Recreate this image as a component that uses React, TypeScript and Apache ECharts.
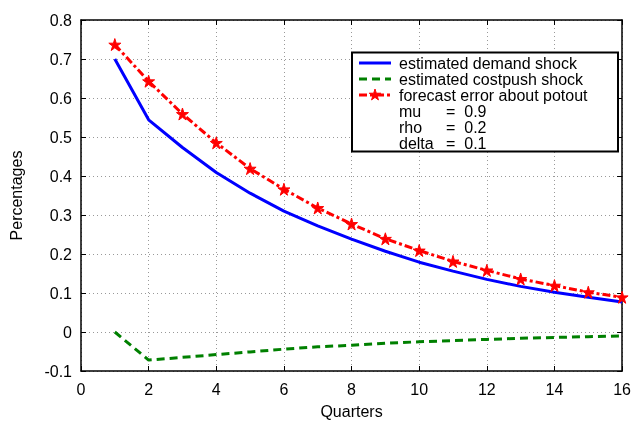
import React, { useEffect, useRef } from "react";
import * as echarts from "echarts";

const quarters = [1, 2, 3, 4, 5, 6, 7, 8, 9, 10, 11, 12, 13, 14, 15, 16];
const demandShock = [0.70, 0.544, 0.473, 0.409, 0.356, 0.31, 0.272, 0.238, 0.207, 0.179, 0.156, 0.135, 0.117, 0.102, 0.089, 0.077];
const costpushShock = [0.0, -0.072, -0.065, -0.058, -0.051, -0.044, -0.038, -0.034, -0.029, -0.025, -0.022, -0.019, -0.016, -0.014, -0.012, -0.01];
const forecastError = [0.737, 0.643, 0.559, 0.485, 0.419, 0.366, 0.318, 0.277, 0.239, 0.209, 0.181, 0.158, 0.136, 0.119, 0.102, 0.089];
const seriesNames = ["estimated demand shock", "estimated costpush shock", "forecast error about potout"];
const paramLabels = ["mu", "rho", "delta"];
const paramValues = ["=  0.9", "=  0.2", "=  0.1"];

const STAR_D = "M50,0 L61,35 L98,35 L68,57 L79,91 L50,70 L21,91 L32,57 L2,35 L39,35 Z";
const STAR = "path://" + STAR_D;
const FONT = "Liberation Sans, Arial, sans-serif";

const BLUE = "#0000ff";
const GREEN = "#008000";
const RED = "#ff0000";
const DASH_GREEN = [8, 5];
const DASH_RED = [8, 3, 3, 3];

export default function App() {
  const ref = useRef<HTMLDivElement>(null);
  useEffect(() => {
    echarts.graphic.registerShape("legendStar", echarts.graphic.extendPath(STAR_D, {}));
    const chart = echarts.init(ref.current!, null, { renderer: "svg" });
    const pair = (ys: number[]) => quarters.map((q, i) => [q, ys[i]]);
    const axisCommon = {
      axisLine: { show: true, onZero: false, lineStyle: { color: "#000", width: 1.5 } },
      axisTick: { show: true, inside: true, length: 5, lineStyle: { color: "#000" } },
    };
    const gridLine = { show: true, lineStyle: { color: "#999", type: [1, 3], width: 1 } };
    const rowY = [63, 79, 95, 111, 127, 143];
    const lineStyles = [
      { stroke: BLUE, lineWidth: 3 },
      { stroke: GREEN, lineWidth: 3, lineDash: DASH_GREEN },
      { stroke: RED, lineWidth: 3, lineDash: DASH_RED },
    ];
    const legendGraphics: any[] = [
      {
        type: "rect", shape: { x: 352, y: 52.5, width: 266, height: 99 },
        style: { fill: "#fff", stroke: "#000", lineWidth: 2 }, z: 100,
      },
    ];
    seriesNames.forEach((name, i) => {
      legendGraphics.push({
        type: "line", z: 101,
        shape: { x1: 359, y1: rowY[i], x2: 391, y2: rowY[i] },
        style: lineStyles[i],
      });
      legendGraphics.push({
        type: "text", z: 101,
        style: { x: 399, y: rowY[i], text: name, fill: "#000", font: `16px ${FONT}`, verticalAlign: "middle" },
      });
    });
    legendGraphics.push({
      type: "legendStar", z: 102, x: 369, y: rowY[2] - 6, scaleX: 0.12, scaleY: 0.12,
      style: { fill: RED, stroke: RED, lineWidth: 8 },
    });
    paramLabels.forEach((lab, i) => {
      legendGraphics.push({
        type: "text", z: 101,
        style: { x: 399, y: rowY[3 + i], text: lab, fill: "#000", font: `16px ${FONT}`, verticalAlign: "middle" },
      });
      legendGraphics.push({
        type: "text", z: 101,
        style: { x: 446, y: rowY[3 + i], text: paramValues[i], fill: "#000", font: `16px ${FONT}`, verticalAlign: "middle" },
      });
    });

    chart.setOption({
      animation: false,
      textStyle: { fontFamily: FONT },
      grid: { left: 81, right: 11, top: 20, bottom: 51, containLabel: false },
      xAxis: [
        {
          type: "value", min: 0, max: 16, interval: 2,
          name: "Quarters", nameLocation: "middle", nameGap: 32,
          nameTextStyle: { color: "#000", fontSize: 16, fontFamily: FONT, verticalAlign: "top" },
          ...axisCommon,
          axisLabel: { color: "#000", fontSize: 16, margin: 10, fontFamily: FONT },
          splitLine: gridLine,
        },
        {
          type: "value", min: 0, max: 16, interval: 2, position: "top",
          ...axisCommon, axisLabel: { show: false }, splitLine: { show: false },
        },
      ],
      yAxis: [
        {
          type: "value", min: -0.1, max: 0.8, interval: 0.1,
          name: "Percentages", nameLocation: "middle", nameGap: 57, nameRotate: 90,
          nameTextStyle: { color: "#000", fontSize: 16, fontFamily: FONT },
          ...axisCommon,
          axisLabel: {
            color: "#000", fontSize: 16, margin: 9, fontFamily: FONT,
            formatter: (v: number) => {
              const r = Math.round(v * 10) / 10;
              return r === 0 ? "0" : String(r);
            },
          },
          splitLine: gridLine,
        },
        {
          type: "value", min: -0.1, max: 0.8, interval: 0.1, position: "right",
          ...axisCommon, axisLabel: { show: false }, splitLine: { show: false },
        },
      ],
      graphic: legendGraphics,
      series: [
        {
          name: seriesNames[0], type: "line", data: pair(demandShock), symbol: "none",
          lineStyle: { color: BLUE, width: 3 }, itemStyle: { color: BLUE }, z: 3,
        },
        {
          name: seriesNames[1], type: "line", data: pair(costpushShock), symbol: "none",
          lineStyle: { color: GREEN, width: 3, type: DASH_GREEN }, itemStyle: { color: GREEN }, z: 3,
        },
        {
          name: seriesNames[2], type: "line", data: pair(forecastError),
          symbol: STAR, symbolSize: 12,
          lineStyle: { color: RED, width: 3, type: DASH_RED },
          itemStyle: { color: RED, borderColor: RED, borderWidth: 1 }, z: 4,
        },
      ],
    });
    return () => chart.dispose();
  }, []);
  return <div ref={ref} style={{ position: "fixed", left: 0, top: 0, width: 634, height: 424 }} />;
}
